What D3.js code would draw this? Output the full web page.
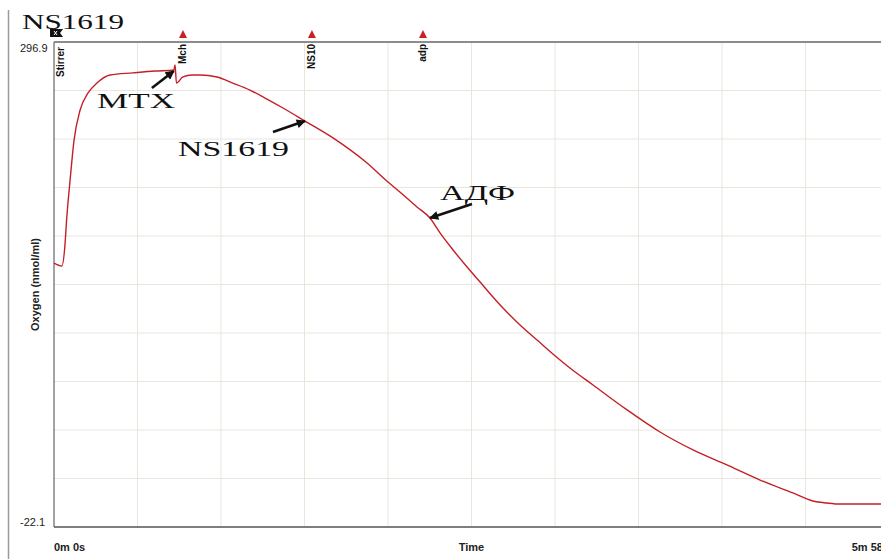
<!DOCTYPE html>
<html lang="en">
<head>
    <meta charset="UTF-8">
    <title>NS1619 oxygen trace</title>
    <script src="https://d3js.org/d3.v7.min.js"></script>
    <style>
        body { margin: 0; background: #fff; }
        .tick-label { font-family: "Liberation Sans Narrow", "Liberation Sans", Arial, sans-serif; font-size: 11px; fill: #222; }
        .axis-title { font-family: "Liberation Sans Narrow", "Liberation Sans", Arial, sans-serif; font-size: 11px; font-weight: bold; fill: #222; }
        .marker-label { font-family: "Liberation Sans", Arial, sans-serif; font-size: 10px; font-weight: bold; fill: #111; }
        .note { font-family: "Liberation Serif", "Times New Roman", serif; font-size: 20px; fill: #111; }
    </style>
</head>
<body>
    <svg width="881" height="559"></svg>

    <script>
        // trace (seconds, nmol/ml)
        const timeSec = [0, 3.4, 4.7, 5.4, 6.9, 8.6, 11.2, 14.6, 18.4, 24.0, 33.9, 43.3, 51.4, 51.9, 52.5, 55.3, 59.2, 62.6, 69.9, 76.7, 84.0, 91.3, 98.2, 107.6, 119.6, 134.2, 143.2, 148.3, 155.6, 161.2, 165.5, 171.1, 177.1, 182.7, 188.2, 192.5, 199.8, 207.1, 213.9, 221.2, 231.1, 245.7, 259.8, 274.0, 288.5, 302.7, 316.8, 325.4, 331.4, 337.0, 358];
        const oxygen = [151.5, 149.6, 163.4, 179.8, 206.1, 232.4, 252.2, 263.4, 269.9, 275.2, 276.6, 277.8, 278.5, 281.8, 269.9, 273.9, 275.2, 275.2, 273.9, 269.9, 265.3, 259.4, 253.5, 244.9, 233.8, 217.3, 204.8, 198.2, 188.4, 181.1, 171.3, 160.1, 148.9, 139.0, 129.2, 121.9, 110.8, 100.9, 91.7, 82.5, 71.3, 54.9, 40.4, 28.6, 18.7, 8.8, 0.3, -5.0, -6.3, -7.0, -7.0];

        // event markers along the top
        const markerNames = ["Mch", "NS10", "adp"];
        const markerTimes = [55.3, 110.6, 158.2];
        const stirrerTime = 1.3;

        // hand-written notes pointing at the trace
        const noteTexts = ["MTX", "NS1619", "АДФ"];
        const noteTimes = [51.4, 107.6, 161.2];
        const noteValues = [277.8, 244.9, 181.1];

        const yMin = -22.1, yMax = 296.9, tMax = 358;
        const xTickLabels = ["0m 0s", "5m 58s"];
        const yTickLabels = ["296.9", "-22.1"];

        const svg = d3.select("svg");
        const pLeft = 54, pRight = 889, pTop = 42, pBottom = 527;

        const x = d3.scaleLinear().domain([0, tMax]).range([pLeft, pRight]);
        const y = d3.scaleLinear().domain([yMin, yMax]).range([pBottom, pTop]);

        // outer frame line on the left
        svg.append("line")
            .attr("x1", 8.5).attr("x2", 8.5).attr("y1", 10).attr("y2", 559)
            .attr("stroke", "#9a9a9a").attr("stroke-width", 1.5);

        // grid, 10 divisions each way
        const grid = svg.append("g");
        d3.range(1, 10).forEach(function (i) {
            const gx = x(tMax * i / 10);
            grid.append("line")
                .attr("x1", gx).attr("x2", gx).attr("y1", pTop).attr("y2", pBottom)
                .attr("stroke", "#e9e6de").attr("stroke-width", 1);
            const gy = y(yMin + (yMax - yMin) * i / 10);
            grid.append("line")
                .attr("x1", pLeft).attr("x2", 881).attr("y1", gy).attr("y2", gy)
                .attr("stroke", "#e9e6de").attr("stroke-width", 1);
        });

        // frame
        svg.append("line")
            .attr("x1", pLeft).attr("x2", 881).attr("y1", pTop).attr("y2", pTop)
            .attr("stroke", "#8c8c8c").attr("stroke-width", 2);
        svg.append("line")
            .attr("x1", pLeft).attr("x2", 881).attr("y1", pBottom).attr("y2", pBottom)
            .attr("stroke", "#555").attr("stroke-width", 1.5);
        svg.append("line")
            .attr("x1", pLeft).attr("x2", pLeft).attr("y1", pTop).attr("y2", pBottom)
            .attr("stroke", "#666").attr("stroke-width", 1.2);

        // axis labels
        svg.append("text").attr("class", "tick-label")
            .attr("x", 20).attr("y", y(yMax) + 10).text(yTickLabels[0]);
        svg.append("text").attr("class", "tick-label")
            .attr("x", 20).attr("y", y(yMin) - 1).text(yTickLabels[1]);
        svg.append("text").attr("class", "axis-title")
            .attr("x", x(0)).attr("y", 551).text(xTickLabels[0]);
        svg.append("text").attr("class", "axis-title")
            .attr("x", x(tMax)).attr("y", 551).attr("text-anchor", "end").text(xTickLabels[1]);
        svg.append("text").attr("class", "axis-title")
            .attr("x", (pLeft + pRight) / 2).attr("y", 551).attr("text-anchor", "middle").text("Time");
        svg.append("text").attr("class", "axis-title")
            .attr("transform", "translate(39," + (pTop + pBottom) / 2 + ") rotate(-90)")
            .attr("text-anchor", "middle").text("Oxygen (nmol/ml)");

        // markers
        const marks = svg.append("g");
        markerNames.forEach(function (name, i) {
            const mx = x(markerTimes[i]);
            marks.append("path")
                .attr("d", "M" + (mx - 4) + ",38L" + (mx + 4) + ",38L" + mx + ",30Z")
                .attr("fill", "#cc1f1f");
            marks.append("text").attr("class", "marker-label")
                .attr("transform", "translate(" + (mx + 3.5) + ",44) rotate(-90)")
                .attr("text-anchor", "end").text(name);
        });

        // stirrer flag
        const sx = x(stirrerTime);
        marks.append("path")
            .attr("d", "M" + (sx - 7) + ",29L" + (sx + 6) + ",29L" + (sx + 3) + ",33L" + (sx + 6) + ",37L" + (sx - 7) + ",37Z")
            .attr("fill", "#111");
        marks.append("path")
            .attr("d", "M" + (sx - 3) + ",31L" + sx + ",35M" + sx + ",31L" + (sx - 3) + ",35")
            .attr("stroke", "#fff").attr("stroke-width", 1);
        marks.append("text").attr("class", "marker-label")
            .attr("transform", "translate(" + (sx + 6.5) + ",47) rotate(-90)")
            .attr("text-anchor", "end").text("Stirrer");

        // trace
        const line = d3.line()
            .x(function (d, i) { return x(timeSec[i]); })
            .y(function (d) { return y(d); })
            .curve(d3.curveMonotoneX);

        svg.append("path")
            .datum(oxygen)
            .attr("d", line)
            .attr("fill", "none")
            .attr("stroke", "#c41f26")
            .attr("stroke-width", 1.4)
            .attr("stroke-linejoin", "round");

        // title
        svg.append("text").attr("class", "note")
            .attr("x", 22).attr("y", 29)
            .attr("textLength", 102).attr("lengthAdjust", "spacingAndGlyphs")
            .text("NS1619");

        // notes with arrows
        svg.append("defs").append("marker")
            .attr("id", "head")
            .attr("viewBox", "0 0 10 10")
            .attr("refX", 9).attr("refY", 5)
            .attr("markerWidth", 4).attr("markerHeight", 3.5)
            .attr("orient", "auto")
            .append("path").attr("d", "M0,0L10,5L0,10Z").attr("fill", "#111");

        const tails = [[-22, 17], [-32, 11], [42, -14]];
        const textPos = [[97, 108, 78], [178, 156, 111], [440, 200, 75]];

        noteTexts.forEach(function (t, i) {
            const hx = x(noteTimes[i]), hy = y(noteValues[i]);
            svg.append("line")
                .attr("x1", hx + tails[i][0]).attr("y1", hy + tails[i][1])
                .attr("x2", hx).attr("y2", hy)
                .attr("stroke", "#111").attr("stroke-width", 2.6)
                .attr("marker-end", "url(#head)");
            svg.append("text").attr("class", "note")
                .attr("x", textPos[i][0]).attr("y", textPos[i][1])
                .attr("textLength", textPos[i][2]).attr("lengthAdjust", "spacingAndGlyphs")
                .text(t);
        });
    </script>
</body>
</html>
